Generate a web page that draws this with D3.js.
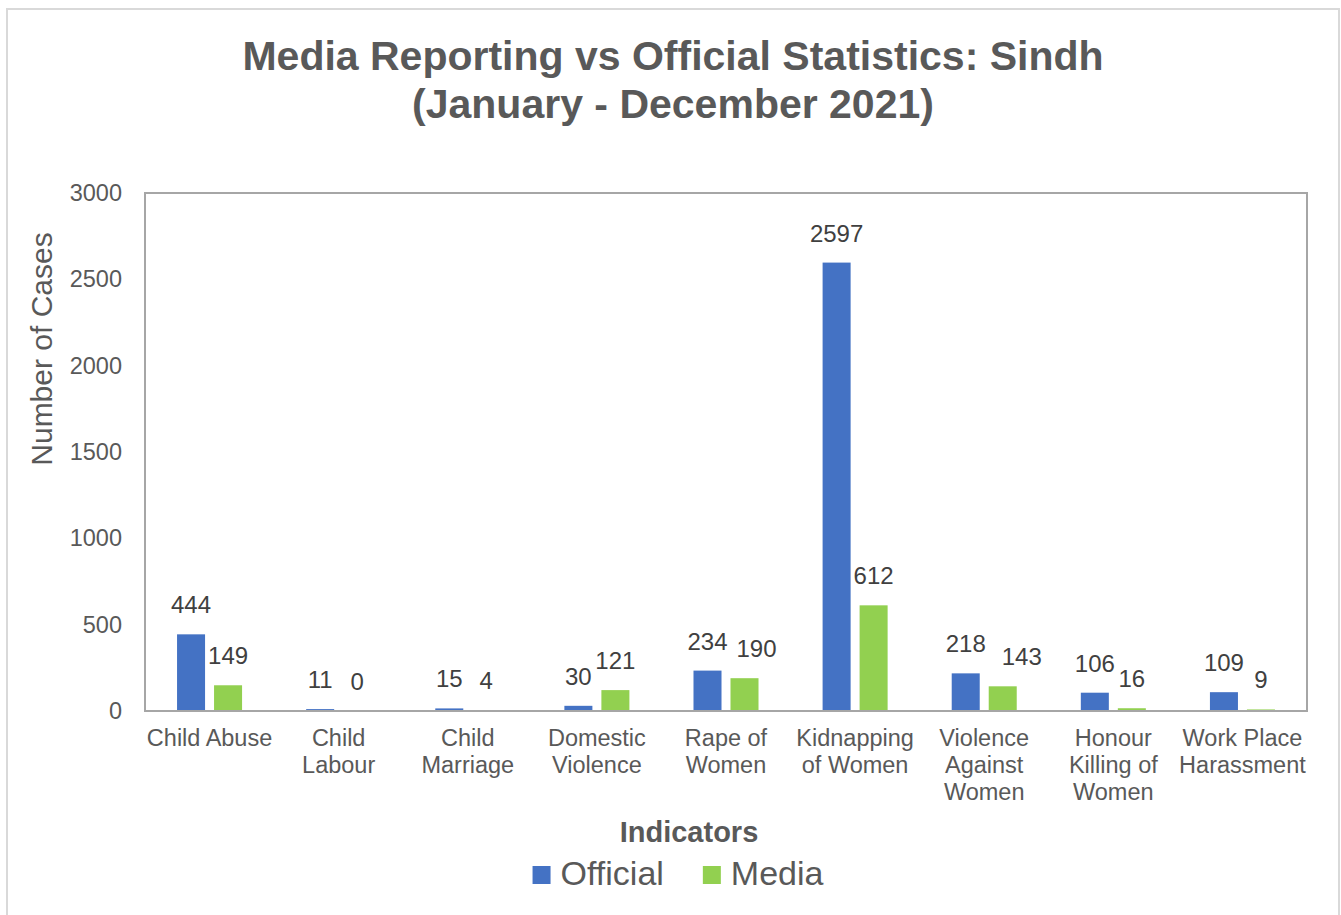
<!DOCTYPE html>
<html>
<head>
<meta charset="utf-8">
<script src="https://cdn.jsdelivr.net/npm/d3@7"></script>
<style>
  html, body { margin: 0; padding: 0; background: #fff; }
  svg { display: block; font-family: "Liberation Sans", Arial, sans-serif; }
</style>
</head>
<body>
<svg id="chart" width="1341" height="915"></svg>
<script>
// Sindh, Jan–Dec 2021: officially recorded cases vs cases reported in the media
const categories = [
  "Child Abuse", "Child Labour", "Child Marriage", "Domestic Violence",
  "Rape of Women", "Kidnapping of Women", "Violence Against Women",
  "Honour Killing of Women", "Work Place Harassment"
];
// wrapped axis labels, one entry per category
const categoryLines = [
  ["Child Abuse"], ["Child", "Labour"], ["Child", "Marriage"], ["Domestic", "Violence"],
  ["Rape of", "Women"], ["Kidnapping", "of Women"], ["Violence", "Against", "Women"],
  ["Honour", "Killing of", "Women"], ["Work Place", "Harassment"]
];
const seriesNames = ["Official", "Media"];
const officialValues = [444, 11, 15, 30, 234, 2597, 218, 106, 109];
const mediaValues    = [149, 0, 4, 121, 190, 612, 143, 16, 9];
const yTicks = [0, 500, 1000, 1500, 2000, 2500, 3000];
const seriesColors = ["#4472C4", "#92D050"];

// a couple of value labels are pushed sideways so they don't collide
const labelShift = { "Rape of Women|Media": 12, "Violence Against Women|Media": 19 };

const seriesValues = [officialValues, mediaValues];
const rows = categories.map((c, i) => ({
  category: c,
  lines: categoryLines[i],
  values: seriesNames.map((s, k) => ({ category: c, series: s, value: seriesValues[k][i] }))
}));

const svg = d3.select("#chart");
const plot = { left: 145, right: 1307, top: 193, bottom: 711 };

// outer chart frame
svg.append("rect")
  .attr("x", 7).attr("y", 9).attr("width", 1332).attr("height", 920)
  .attr("fill", "#fff").attr("stroke", "#d9d9d9").attr("stroke-width", 2);

// title
const title = svg.append("text")
  .attr("text-anchor", "middle")
  .attr("font-size", 41).attr("font-weight", "bold").attr("fill", "#595959");
title.append("tspan").attr("x", 673).attr("y", 70)
  .text("Media Reporting vs Official Statistics: Sindh");
title.append("tspan").attr("x", 673).attr("y", 118)
  .text("(January - December 2021)");

// scales
const y = d3.scaleLinear().domain([0, 3000]).range([plot.bottom, plot.top]);
const x0 = d3.scaleBand().domain(categories).range([plot.left, plot.right]).padding(0);
const x1 = d3.scaleBand().domain(seriesNames).range([0, x0.bandwidth()])
  .paddingInner(0.243).paddingOuter(0.866);
const color = d3.scaleOrdinal().domain(seriesNames).range(seriesColors);

// y axis tick labels
const yAxis = d3.axisLeft(y).tickValues(yTicks).tickSize(0).tickPadding(23)
  .tickFormat(d3.format("d"));
const yG = svg.append("g").attr("transform", `translate(${plot.left},0)`).call(yAxis);
yG.select(".domain").remove();
yG.selectAll("text")
  .attr("font-family", "Liberation Sans, Arial, sans-serif")
  .attr("font-size", 23.5).attr("fill", "#595959");

// bars
const groups = svg.append("g").selectAll("g").data(rows).join("g")
  .attr("transform", d => `translate(${x0(d.category)},0)`);

groups.selectAll("rect").data(d => d.values).join("rect")
  .attr("x", d => x1(d.series))
  .attr("width", x1.bandwidth())
  .attr("y", d => y(d.value))
  .attr("height", d => y(0) - y(d.value))
  .attr("fill", d => color(d.series));

// value labels above the bars
groups.selectAll("text.val").data(d => d.values).join("text")
  .attr("class", "val")
  .attr("x", d => x1(d.series) + x1.bandwidth() / 2 + (labelShift[d.category + "|" + d.series] || 0))
  .attr("y", d => y(d.value) - 21)
  .attr("text-anchor", "middle")
  .attr("font-size", 24).attr("fill", "#404040")
  .text(d => d.value);

// plot area frame
svg.append("rect")
  .attr("x", plot.left).attr("y", plot.top)
  .attr("width", plot.right - plot.left).attr("height", plot.bottom - plot.top)
  .attr("fill", "none").attr("stroke", "#a6a6a6").attr("stroke-width", 2);

// category labels
const xAxis = d3.axisBottom(x0).tickSize(0).tickFormat(() => "");
const xG = svg.append("g").attr("transform", `translate(0,${plot.bottom})`).call(xAxis);
xG.select(".domain").remove();
const catLabel = svg.append("g").selectAll("text").data(rows).join("text")
  .attr("text-anchor", "middle")
  .attr("font-size", 23.5).attr("fill", "#595959");
catLabel.selectAll("tspan").data(d => d.lines.map(l => ({ l, cx: x0(d.category) + x0.bandwidth() / 2 })))
  .join("tspan")
  .attr("x", d => d.cx)
  .attr("y", (d, i) => 746 + i * 27)
  .text(d => d.l);

// axis titles
svg.append("text")
  .attr("transform", "translate(52,349) rotate(-90)")
  .attr("text-anchor", "middle")
  .attr("font-size", 30).attr("fill", "#595959")
  .text("Number of Cases");

svg.append("text")
  .attr("x", 689).attr("y", 842)
  .attr("text-anchor", "middle")
  .attr("font-size", 29).attr("font-weight", "bold").attr("fill", "#595959")
  .text("Indicators");

// legend
const legend = svg.append("g");
const items = legend.selectAll("g").data(seriesNames).join("g");
items.append("rect")
  .attr("width", 18).attr("height", 18).attr("y", 866)
  .attr("fill", d => color(d));
items.append("text")
  .attr("x", 28).attr("y", 885)
  .attr("font-size", 34).attr("fill", "#595959")
  .text(d => d);
const widths = [];
items.each(function () {
  widths.push(28 + d3.select(this).select("text").node().getComputedTextLength());
});
const totalW = d3.sum(widths) + 39 * (widths.length - 1);
let cursor = 678 - totalW / 2;
items.attr("transform", (d, i) => {
  const t = `translate(${cursor},0)`;
  cursor += widths[i] + 39;
  return t;
});
</script>
</body>
</html>
